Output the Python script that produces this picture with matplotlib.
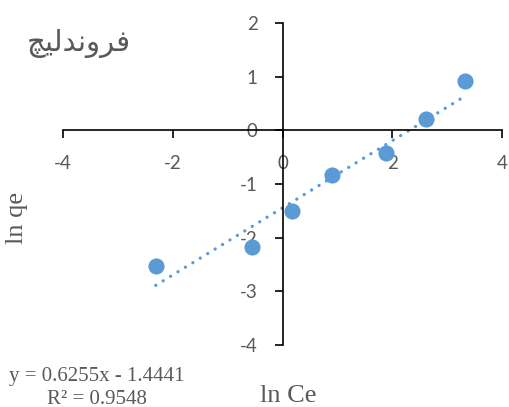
import numpy as np
import matplotlib
matplotlib.use("Agg")
import matplotlib.pyplot as plt

plt.rcParams["axes.unicode_minus"] = False

# data
ln_ce = [-2.31, -0.56, 0.18, 0.91, 1.89, 2.62, 3.33]
ln_qe = [-2.53, -2.18, -1.51, -0.84, -0.43, 0.22, 0.91]
slope = 0.6255
intercept = -1.4441
r2 = 0.9548
x_ticks = [-4, -2, 0, 2, 4]
y_ticks = [-4, -3, -2, -1, 0, 1, 2]

# title word, shaped by hand (presentation forms, visual order)
title_text = "\uFB7B\uFBFF\uFEDF\uFEAA\uFEE7\uFEED\uFEAE\uFED3"

blue = "#5B9BD5"
gray = "#595959"

fig = plt.figure(figsize=(5.09, 4.07), dpi=100)
ax = fig.add_axes([63 / 509, 1 - 345 / 407, 439 / 509, 322 / 407])

ax.scatter(ln_ce, ln_qe, s=135, color=blue, zorder=3, linewidths=0)

# dotted linear trendline over the data range
xs = np.array([min(ln_ce), max(ln_ce)])
ax.plot(xs, slope * xs + intercept, color=blue, lw=2.4,
        linestyle=(0, (0.01, 2.6)), dash_capstyle="round", zorder=2)

ax.set_xlim(-4, 4)
ax.set_ylim(-4, 2)
ax.set_xticks(x_ticks)
ax.set_yticks(y_ticks)

for side in ["top", "right"]:
    ax.spines[side].set_visible(False)
ax.spines["left"].set_position(("data", 0))
ax.spines["bottom"].set_position(("data", 0))
for side in ["left", "bottom"]:
    ax.spines[side].set_linewidth(1.2)
    ax.spines[side].set_color("black")

ax.tick_params(axis="both", direction="out", length=6, width=1.2,
               colors="black", labelcolor=gray, labelsize=13.5, pad=12)
for lab in ax.get_xticklabels() + ax.get_yticklabels():
    lab.set_family("Lato")

fig.text(79 / 509, 1 - 44 / 407, title_text, fontsize=21, color=gray,
         family="DejaVu Sans", ha="center", va="center")

fig.text(17 / 509, 1 - 218 / 407, "ln qe", fontsize=19, color=gray,
         family="Liberation Serif", rotation=90, ha="center", va="center")
fig.text(288 / 509, 1 - 396 / 407, "ln Ce", fontsize=19, color=gray,
         family="Liberation Serif", ha="center", va="center")

fig.text(97 / 509, 1 - 377 / 407, f"y = {slope}x - {abs(intercept)}",
         fontsize=15, color=gray, family="Liberation Serif",
         ha="center", va="center")
fig.text(97 / 509, 1 - 399 / 407, f"R² = {r2}",
         fontsize=15, color=gray, family="Liberation Serif",
         ha="center", va="center")

fig.savefig("out.png", dpi=100)
